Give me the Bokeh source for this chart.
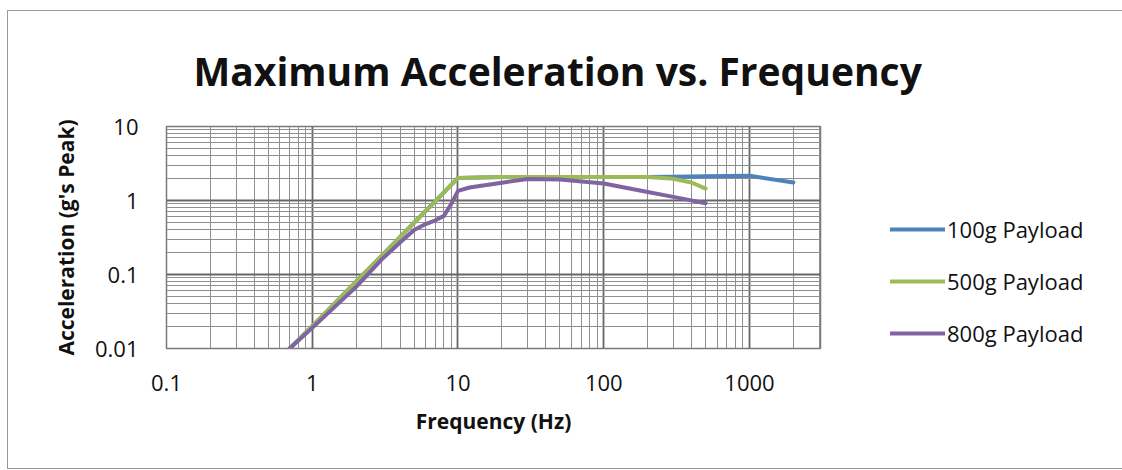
from bokeh.plotting import figure
from bokeh.models import FixedTicker, CustomJSTickFormatter, Legend, LegendItem
from bokeh.embed import file_html
from bokeh.resources import INLINE

# ---- data ----
freq_100 = [0.7, 1, 2, 3, 5, 7, 10, 20, 30, 50, 100, 200, 300, 500, 1000, 2000]
acc_100 = [0.01, 0.02, 0.08, 0.18, 0.5, 0.98, 2.02, 2.07, 2.07, 2.07, 2.07, 2.07, 2.1, 2.13, 2.16, 1.75]

freq_500 = [0.7, 1, 2, 3, 5, 7, 10, 20, 30, 50, 100, 200, 300, 400, 500]
acc_500 = [0.01, 0.02, 0.08, 0.18, 0.5, 0.98, 2.02, 2.07, 2.07, 2.07, 2.07, 2.07, 1.97, 1.75, 1.45]

freq_800 = [0.7, 1, 2, 3, 4, 5, 6, 7, 8, 9, 10, 12, 20, 30, 50, 100, 200, 300, 500]
acc_800 = [0.01, 0.019, 0.068, 0.16, 0.27, 0.4, 0.48, 0.54, 0.62, 0.9, 1.35, 1.5, 1.74, 1.95, 1.92, 1.7, 1.3, 1.12, 0.92]

series_names = ["100g Payload", "500g Payload", "800g Payload"]
series_colors = ["#4F81BD", "#9BBB59", "#8064A2"]

x_ticks = [0.1, 1, 10, 100, 1000]
x_tick_labels = ["0.1", "1", "10", "100", "1000"]
y_ticks = [0.01, 0.1, 1, 10]
y_tick_labels = ["0.01", "0.1", "1", "10"]

title_text = "Maximum Acceleration vs. Frequency"
x_label = "Frequency (Hz)"
y_label = "Acceleration (g's Peak)"

FONT = "Open Sans"
TXT = "#111111"

H = 457
FL, FT, FW, FH = 158, 115, 654, 222

p = figure(frame_width=FW, frame_height=FH, x_axis_type="log", y_axis_type="log",
           x_range=(0.1, 3070), y_range=(0.01, 10),
           output_backend="svg", toolbar_location=None,
           min_border_left=FL, min_border_right=0,
           min_border_top=FT, min_border_bottom=H - FT - FH,
           styles={"border": "1px solid #9a9a9a", "margin-left": "7px", "margin-top": "10px"})

p.background_fill_color = "white"
p.border_fill_color = "white"
p.outline_line_color = "#7a7a7a"
p.outline_line_width = 1.5

# title
p.title.text = title_text
p.title.align = "left"
p.title.offset = 27
p.title.text_font = FONT
p.title.text_font_style = "bold"
p.title.text_font_size = "39px"
p.title.text_color = TXT
p.title.standoff = 59

# ticks
x_minor = [m * 10.0 ** k for k in range(-1, 4) for m in range(1, 10) if m * 10.0 ** k <= 3000]
y_minor = [m * 10.0 ** k for k in range(-2, 1) for m in range(1, 10)]
p.xaxis.ticker = FixedTicker(ticks=x_ticks, minor_ticks=x_minor)
p.yaxis.ticker = FixedTicker(ticks=y_ticks, minor_ticks=y_minor)

fmt_code = """
const i = tvals.findIndex(t => Math.abs(Math.log10(t) - Math.log10(tick)) < 1e-6);
return i >= 0 ? tlabs[i] : '';
"""
p.xaxis.formatter = CustomJSTickFormatter(args=dict(tvals=x_ticks, tlabs=x_tick_labels), code=fmt_code)
p.yaxis.formatter = CustomJSTickFormatter(args=dict(tvals=y_ticks, tlabs=y_tick_labels), code=fmt_code)

for ax in (p.xaxis, p.yaxis):
    ax.axis_line_color = None
    ax.major_tick_line_color = None
    ax.minor_tick_line_color = None
    ax.major_label_text_font = FONT
    ax.major_label_text_font_size = "22px"
    ax.major_label_text_color = TXT
    ax.axis_label_text_font = FONT
    ax.axis_label_text_font_style = "bold"
    ax.axis_label_text_font_size = "21px"
    ax.axis_label_text_color = TXT

p.xaxis.axis_label = x_label
p.yaxis.axis_label = y_label
p.xaxis.major_label_standoff = 20
p.xaxis.axis_label_standoff = 13
p.yaxis.major_label_standoff = 22
p.yaxis.axis_label_standoff = 12

# grids
for g in (p.xgrid, p.ygrid):
    g.grid_line_color = "#666666"
    g.grid_line_width = 1.8
    g.minor_grid_line_color = "#8f8f8f"
    g.minor_grid_line_width = 1

# lines
styles_kw = dict(line_width=4, line_join="round", line_cap="round")
r1 = p.line(freq_100, acc_100, line_color=series_colors[0], **styles_kw)
r2 = p.line(freq_500, acc_500, line_color=series_colors[1], **styles_kw)
r3 = p.line(freq_800, acc_800, line_color=series_colors[2], **styles_kw)

legend = Legend(items=[LegendItem(label=n, renderers=[r]) for n, r in zip(series_names, (r1, r2, r3))],
                location=(70, 0), orientation="vertical",
                glyph_width=55, glyph_height=30, label_height=30, spacing=22,
                padding=0, margin=30, label_standoff=2,
                label_text_font=FONT, label_text_font_size="22px", label_text_color=TXT,
                border_line_alpha=0, background_fill_alpha=0)
p.add_layout(legend, "right")

open("out.html", "w").write(file_html(p, INLINE))
